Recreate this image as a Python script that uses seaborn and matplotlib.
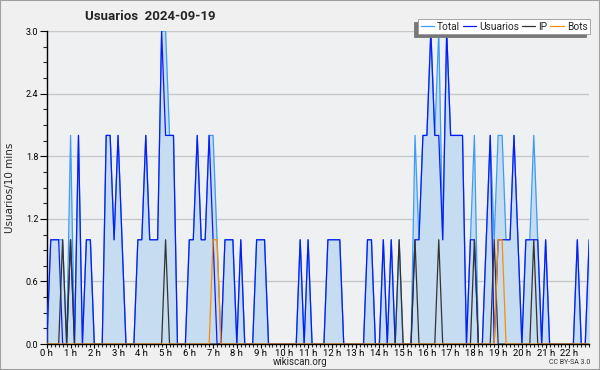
import numpy as np
import pandas as pd
import matplotlib
matplotlib.use("Agg")
import matplotlib.pyplot as plt
from matplotlib.patches import Rectangle
from matplotlib.ticker import MultipleLocator
import seaborn as sns

# valores cada 10 minutos, de 0:00 a 22:50
usuarios = [0, 1, 1, 1, 0, 0, 1, 0, 2, 0,
            1, 1, 0, 0, 0, 2, 2, 1, 2, 1,
            0, 0, 0, 1, 1, 2, 1, 1, 1, 3,
            2, 2, 2, 0, 0, 0, 1, 1, 2, 1,
            1, 2, 1, 0, 0, 1, 1, 1, 0, 1,
            0, 0, 0, 1, 1, 1, 0, 0, 0, 0,
            0, 0, 0, 0, 1, 0, 1, 0, 0, 0,
            0, 1, 1, 1, 1, 0, 0, 0, 0, 0,
            0, 1, 1, 0, 0, 1, 0, 1, 0, 0,
            0, 0, 0, 1, 1, 2, 2, 3, 2, 2,
            1, 3, 2, 2, 2, 2, 0, 1, 1, 0,
            0, 1, 2, 0, 1, 1, 1, 1, 2, 1,
            0, 1, 1, 1, 1, 0, 1, 0, 0, 0,
            0, 0, 0, 0, 1, 0, 0, 1]
ip = [0, 0, 0, 0, 1, 0, 1, 0, 0, 0,
      0, 0, 0, 0, 0, 0, 0, 0, 0, 0,
      0, 0, 0, 0, 0, 0, 0, 0, 0, 0,
      1, 0, 0, 0, 0, 0, 0, 0, 0, 0,
      0, 0, 0, 0, 0, 0, 0, 0, 0, 0,
      0, 0, 0, 0, 0, 0, 0, 0, 0, 0,
      0, 0, 0, 0, 0, 0, 0, 0, 0, 0,
      0, 0, 0, 0, 0, 0, 0, 0, 0, 0,
      0, 0, 0, 0, 0, 0, 0, 0, 0, 1,
      0, 0, 0, 1, 0, 0, 0, 0, 0, 1,
      0, 0, 0, 0, 0, 0, 0, 0, 1, 0,
      0, 0, 0, 1, 0, 0, 0, 0, 0, 0,
      0, 0, 0, 1, 0, 0, 0, 0, 0, 0,
      0, 0, 0, 0, 0, 0, 0, 0]
bots = [0, 0, 0, 0, 0, 0, 0, 0, 0, 0,
        0, 0, 0, 0, 0, 0, 0, 0, 0, 0,
        0, 0, 0, 0, 0, 0, 0, 0, 0, 0,
        0, 0, 0, 0, 0, 0, 0, 0, 0, 0,
        0, 0, 1, 1, 0, 0, 0, 0, 0, 0,
        0, 0, 0, 0, 0, 0, 0, 0, 0, 0,
        0, 0, 0, 0, 0, 0, 0, 0, 0, 0,
        0, 0, 0, 0, 0, 0, 0, 0, 0, 0,
        0, 0, 0, 0, 0, 0, 0, 0, 0, 0,
        0, 0, 0, 0, 0, 0, 0, 0, 0, 0,
        0, 0, 0, 0, 0, 0, 0, 0, 0, 0,
        0, 0, 0, 0, 1, 1, 0, 0, 0, 0,
        0, 0, 0, 0, 0, 0, 0, 0, 0, 0,
        0, 0, 0, 0, 0, 0, 0, 0]
total = [0, 1, 1, 1, 1, 0, 2, 0, 2, 0,
         1, 1, 0, 0, 0, 2, 2, 1, 2, 1,
         0, 0, 0, 1, 1, 2, 1, 1, 1, 3,
         3, 2, 2, 0, 0, 0, 1, 1, 2, 1,
         1, 2, 2, 1, 0, 1, 1, 1, 0, 1,
         0, 0, 0, 1, 1, 1, 0, 0, 0, 0,
         0, 0, 0, 0, 1, 0, 1, 0, 0, 0,
         0, 1, 1, 1, 1, 0, 0, 0, 0, 0,
         0, 1, 1, 0, 0, 1, 0, 1, 0, 1,
         0, 0, 0, 2, 1, 2, 2, 3, 2, 3,
         1, 3, 2, 2, 2, 2, 0, 1, 2, 0,
         0, 1, 2, 1, 2, 2, 1, 1, 2, 1,
         0, 1, 1, 2, 1, 0, 1, 0, 0, 0,
         0, 0, 0, 0, 1, 0, 0, 1]

series = ["Total", "Usuarios", "IP", "Bots"]
colores = ["#3d9cf5", "#0a1cf5", "#333333", "#ff8c00"]
horas_ticks = list(range(23))
horas_labels = [f"{h} h" for h in horas_ticks]
y_ticks = [0.0, 0.6, 1.2, 1.8, 2.4, 3.0]

horas = np.arange(len(total)) * 10 / 60.0
wide = pd.DataFrame({"hora": horas, "Total": total, "Usuarios": usuarios,
                     "IP": ip, "Bots": bots})
df = wide.melt(id_vars="hora", var_name="serie", value_name="valor")

sns.set_style("ticks")
plt.rcParams["font.family"] = ["Roboto", "DejaVu Sans"]

fig = plt.figure(figsize=(6, 3.7), dpi=100, facecolor="#f0f0f0")
ax = fig.add_axes([0.078, 0.070, 0.904, 0.846])
ax.set_facecolor("#eef0f2")

ax.fill_between(wide["hora"], wide["Total"], 0, color="#c6dcf0", lw=0, zorder=1)
sns.lineplot(data=df, x="hora", y="valor", hue="serie", hue_order=series,
             palette=colores, linewidth=0.9, ax=ax, zorder=3)

ax.set_xlim(horas[0], horas[-1])
ax.set_ylim(0, 3)
ax.set_xticks(horas_ticks)
ax.set_xticklabels(horas_labels)
ax.xaxis.set_minor_locator(MultipleLocator(1 / 6))
ax.set_yticks(y_ticks)
ax.set_yticklabels([f"{v:.1f}" for v in y_ticks])
ax.yaxis.set_minor_locator(MultipleLocator(0.15))
ax.yaxis.grid(True, color="#c8c8c8", lw=1, zorder=0)
ax.xaxis.grid(False)
ax.set_axisbelow(True)
ax.set_xlabel("")
ax.set_ylabel("")

for s in ["top", "right"]:
    ax.spines[s].set_visible(False)
for s in ["left", "bottom"]:
    ax.spines[s].set_color("black")
    ax.spines[s].set_linewidth(1)
ax.tick_params(axis="y", which="major", direction="out", length=5,
               width=0.8, labelsize=6.5, pad=1, colors="black")
ax.tick_params(axis="y", which="minor", direction="out", length=3, width=0.8)
ax.tick_params(axis="x", which="major", direction="out", length=3,
               width=0.8, labelsize=6.8, pad=0.5, colors="black")
ax.tick_params(axis="x", which="minor", direction="out", length=2.5, width=0.8)

handles, labels = ax.get_legend_handles_labels()
leg = ax.legend(handles, labels, ncol=4, loc="upper right",
                bbox_to_anchor=(590 / 600, 1 - 19 / 370), bbox_transform=fig.transFigure,
                frameon=True, fancybox=False, fontsize=7.3, handlelength=1.3,
                handletextpad=0.3, columnspacing=0.3, borderpad=0.25,
                borderaxespad=0, shadow={"ox": -3, "oy": -2, "color": "#777777", "alpha": 1})
leg.get_frame().set_edgecolor("#999999")
leg.get_frame().set_facecolor("white")
leg.get_frame().set_linewidth(0.6)
leg.set_zorder(10)

fig.text(85 / 600, 1 - 16 / 370, "Usuarios  2024-09-19", fontsize=9.5,
         fontweight="bold", ha="left", va="center")
fig.text(10 / 600, 1 - 188 / 370, "Usuarios/10 mins", fontsize=7.5, rotation=90,
         ha="center", va="center", family=["DejaVu Sans"])
fig.text(300 / 600, 1 - 362 / 370, "wikiscan.org", fontsize=7, ha="center", va="center")
fig.text(590 / 600, 1 - 363 / 370, "CC BY-SA 3.0", fontsize=5, ha="right",
         va="center", color="#333333")

fig.patches.append(Rectangle((0, 0), 1, 1, transform=fig.transFigure, fill=False,
                             edgecolor="#a0a0a0", lw=1.5))

fig.savefig("out.png", dpi=100, facecolor=fig.get_facecolor())
